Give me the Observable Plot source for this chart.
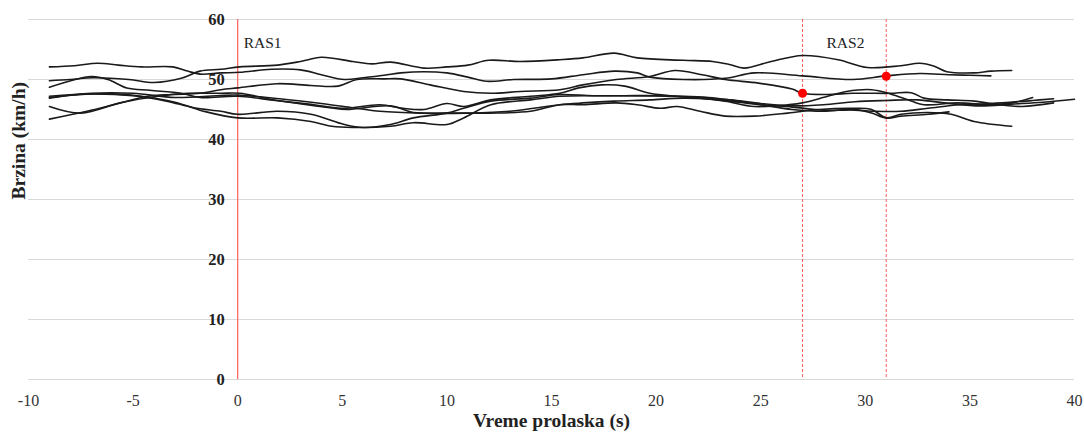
<!DOCTYPE html>
<html>
<head>
<meta charset="utf-8">
<script src="https://cdn.jsdelivr.net/npm/d3@7"></script>
<script src="https://cdn.jsdelivr.net/npm/@observablehq/plot@0.6"></script>
<style>
  html, body { margin: 0; padding: 0; background: #fff; }
  #chart svg { display: block; }
</style>
</head>
<body>
<div id="chart"></div>
<script>
// Speed traces: [time (s), speed (km/h)]
const runA = [[-9,52.1],[-7.8,52.3],[-6.7,52.7],[-5.7,52.4],[-4.6,52.1],[-3.1,52.1],[-2.4,51.4],[-1.8,50.9],[-0.8,51.1],[0.1,51.2],[1.6,51.7],[3.0,51.6],[4.0,50.8],[5.1,50.0],[6.0,50.3],[7.0,50.7],[7.8,51.1],[8.9,51.3],[10,51.1],[11,50.4],[11.9,49.7],[13.2,50.0],[15,50.1],[16.5,50.8],[18,51.4],[19.1,51.1],[19.7,50.4],[21.3,50.0],[23.3,50.2],[24.7,51.1],[27,50.6],[29.4,50.0],[31,50.6],[32.6,51.0],[34,50.8],[35,50.7],[36,50.6]];
const runB = [[-9,49.8],[-8,50.0],[-6.9,50.3],[-5.2,50.0],[-4.0,49.5],[-2.7,50.2],[-1.8,51.4],[-0.8,51.7],[0.1,52.1],[1.9,52.4],[3.0,53.0],[4.0,53.7],[5.5,53.0],[6.4,52.6],[7.3,52.9],[8.9,51.9],[10,52.1],[11,52.4],[12,53.2],[13.5,53.0],[15.4,53.3],[16.5,53.6],[18,54.4],[19.1,53.6],[21.3,53.2],[22.7,53.0],[23.5,52.5],[24.2,51.9],[25.5,53.0],[27,54.0],[28.7,53.3],[30.1,52.0],[31.7,52.3],[32.6,52.7],[33.3,52.2],[33.9,51.3],[35.2,51.1],[36,51.4],[37,51.5]];
const runC = [[-9,48.7],[-7,50.5],[-6.2,50.0],[-5.3,48.6],[-4.2,48.2],[-2.7,47.7],[-1.8,47.0],[0,47.2],[1.8,46.5],[3.4,45.9],[5,45.2],[6.8,45.8],[7.9,45.2],[8.9,45.0],[10,46.0],[10.8,45.5],[12.1,46.6],[14,47.2],[15.4,47.7],[16.3,48.6],[17.4,49.1],[18.5,48.9],[19.7,47.7],[21,47.2],[22.1,46.9],[23.3,46.4],[24.7,45.5],[26.3,45.8],[27,46.1],[28.2,47.2],[29.1,48.0],[30.3,48.3],[31.2,47.6],[32.2,46.4],[32.8,45.8],[34.4,46.1],[36,45.8],[37,46.1],[38,47.0]];
const runD = [[-9,43.4],[-7.2,44.7],[-5.6,46.1],[-4.3,47.2],[-3.2,47.5],[-1.8,47.7],[-0.8,48.3],[0,48.6],[1.9,49.3],[3.5,49.0],[4.8,48.9],[5.7,50.0],[7,50.1],[7.8,50.1],[9.2,49.1],[10.8,48.0],[12.1,47.7],[13.5,48.0],[15.4,48.3],[16.5,49.1],[18.1,50.0],[19.7,50.5],[20.9,51.5],[22.2,50.8],[23.3,50.0],[24.9,49.4],[26.5,48.4],[27,47.7],[28.2,47.5],[29.4,47.7],[31.2,47.7],[32.2,47.8],[32.8,46.9],[33.9,46.6],[35.2,46.4],[36.4,45.8],[37.5,45.5],[39,46.1]];
const runE = [[-9,47.0],[-7.5,47.5],[-6,47.6],[-4.6,47.2],[-3,46.2],[-1.5,44.6],[0,43.6],[1.9,43.6],[3.5,43.0],[4.5,42.2],[5.5,42.0],[7.3,42.2],[8.4,42.8],[10,42.5],[10.8,43.6],[12.1,45.8],[14,46.6],[15.4,47.2],[17,47.3],[18.5,47.3],[20,47.3],[21.5,47.1],[23.5,46.4],[25,45.8],[26.5,45.4],[28,44.9],[29.5,44.9],[30.5,44.7],[31.7,44.7],[33,45.2],[34.5,45.8],[36,46.0],[38,46.5],[39,46.8]];
const runF = [[-9,45.5],[-7.5,44.4],[-5.5,46.2],[-3.8,47.2],[-2.4,47.7],[-0.8,47.7],[0.1,47.7],[1.9,46.5],[4.4,45.3],[5.2,45.0],[7.3,45.6],[8.4,44.5],[10,44.4],[12,44.4],[14,44.7],[15.4,45.8],[16.5,45.8],[18.1,46.1],[19.1,45.8],[20.2,45.2],[21,45.5],[22.1,44.7],[23.3,43.9],[24.7,43.9],[26.3,44.4],[27.8,45.0],[29.4,45.2],[30.3,45.0],[31,43.6],[31.7,43.9],[33,44.2],[34,44.6]];
const runG = [[-9,47.2],[-7,47.6],[-5,47.3],[-3.4,46.4],[-2.1,45.3],[-0.8,44.7],[0,44.2],[1.9,44.7],[3.5,44.2],[5.1,42.5],[6,42.0],[7.3,42.5],[8.4,43.6],[10,44.4],[10.8,45.2],[12.1,46.4],[14,46.9],[15.4,47.5],[17,47.3],[19,47.3],[21,47.2],[22.5,47.0],[23.5,46.6],[25,45.8],[26.5,45.0],[28,44.7],[29.5,45.0],[30.3,44.4],[31,43.6],[31.7,44.2],[33,44.5],[34.1,44.2],[35.2,43.0],[37,42.2]];
const runH = [[-9,46.9],[-7,47.7],[-5,47.7],[-3,47.0],[-1,47.3],[0,47.4],[2,46.8],[4,46.0],[5.5,45.3],[6.8,44.7],[8.8,44.4],[10.9,44.4],[13,44.7],[15.4,45.8],[16.5,46.1],[18,46.4],[19.7,46.6],[21.3,46.9],[23.5,46.6],[25,46.0],[26.5,45.6],[28,45.8],[29.5,46.3],[31,46.5],[32.5,46.6],[34,46.0],[35.5,45.6],[37,45.9],[38.5,46.2],[40,46.7]];

const runNames = ["A","B","C","D","E","F","G","H"];
const runs = [runA, runB, runC, runD, runE, runF, runG, runH];

// Section markers
const ras1Time = [0];
const ras2Times = [27, 31];
const markerPoints = [[27, 47.7], [31, 50.55]];
const sectionLabels = [{t: 0, v: 56, label: "RAS1", anchor: "start"}, {t: 29.05, v: 56, label: "RAS2", anchor: "middle"}];

// Axes
const xTicks = [-10, -5, 0, 5, 10, 15, 20, 25, 30, 35, 40];
const yTicks = [0, 10, 20, 30, 40, 50, 60];
const xTitle = "Vreme prolaska (s)";
const yTitle = "Brzina (km/h)";

const lineData = runs.flatMap((r, i) => r.map(([t, v]) => ({run: runNames[i], t, v})));
const serif = "'Liberation Serif', 'DejaVu Serif', serif";

const chart = Plot.plot({
  width: 1084,
  height: 436,
  marginLeft: 28,
  marginRight: 10,
  marginTop: 19,
  marginBottom: 57,
  style: {fontFamily: serif, background: "#fff", color: "#222"},
  x: {domain: [-10, 40], axis: null},
  y: {domain: [0, 60], axis: null},
  marks: [
    Plot.ruleY(yTicks, {stroke: "#d9d9d9", strokeWidth: 1}),
    Plot.ruleX(ras1Time, {stroke: "#ff5a5a", strokeWidth: 1.2}),
    Plot.ruleX(ras2Times, {stroke: "#ff5a5a", strokeWidth: 1, strokeDasharray: "3,2"}),
    Plot.line(lineData, {x: "t", y: "v", z: "run", curve: "catmull-rom", stroke: "#1a1a1a", strokeWidth: 1.6}),
    Plot.dot(markerPoints, {x: d => d[0], y: d => d[1], r: 4.5, fill: "#ff0000", stroke: "none"}),
    Plot.text(sectionLabels.filter(d => d.anchor === "start"), {x: "t", y: "v", text: "label", textAnchor: "start", dx: 6, fontSize: 15.5, fill: "#222"}),
    Plot.text(sectionLabels.filter(d => d.anchor === "middle"), {x: "t", y: "v", text: "label", textAnchor: "middle", fontSize: 15.5, fill: "#222"}),
    Plot.text(yTicks, {x: 0, y: d => d, text: d => String(d), textAnchor: "end", dx: -13, fontWeight: "bold", fontSize: 16.5, fill: "#222"}),
    Plot.text(xTicks, {x: d => d, y: 0, text: d => String(d), dy: 21, fontSize: 16, fill: "#333"}),
    Plot.text([xTitle], {frameAnchor: "bottom", dy: 47, fontWeight: "bold", fontSize: 19.5, fill: "#222"}),
    Plot.text([yTitle], {frameAnchor: "left", rotate: -90, dx: -10, fontWeight: "bold", fontSize: 19.5, fill: "#222"})
  ]
});
document.getElementById("chart").appendChild(chart);
</script>
</body>
</html>
